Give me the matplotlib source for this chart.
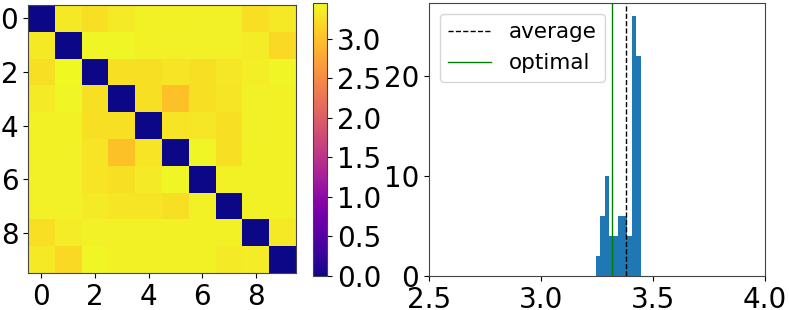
import numpy as np
import matplotlib
matplotlib.use("Agg")
import matplotlib.pyplot as plt

# ---- data ----
matrix = [
    [0.00, 3.32, 3.25, 3.33, 3.39, 3.39, 3.38, 3.38, 3.24, 3.32],
    [3.32, 0.00, 3.42, 3.41, 3.39, 3.38, 3.38, 3.38, 3.35, 3.20],
    [3.25, 3.44, 0.00, 3.25, 3.25, 3.28, 3.26, 3.31, 3.36, 3.41],
    [3.33, 3.41, 3.25, 0.00, 3.25, 3.00, 3.26, 3.30, 3.38, 3.39],
    [3.39, 3.39, 3.25, 3.25, 0.00, 3.28, 3.31, 3.26, 3.38, 3.39],
    [3.39, 3.38, 3.28, 3.00, 3.28, 0.00, 3.41, 3.25, 3.39, 3.39],
    [3.38, 3.38, 3.28, 3.26, 3.33, 3.41, 0.00, 3.39, 3.39, 3.39],
    [3.38, 3.38, 3.33, 3.30, 3.29, 3.25, 3.39, 0.00, 3.39, 3.39],
    [3.24, 3.35, 3.38, 3.38, 3.38, 3.39, 3.39, 3.39, 0.00, 3.32],
    [3.32, 3.20, 3.41, 3.39, 3.39, 3.39, 3.39, 3.33, 3.35, 0.00],
]
vmax = 3.45

hist_edges = [3.2435, 3.2636, 3.2837, 3.3038, 3.3240, 3.3441,
              3.3642, 3.3843, 3.4044, 3.4245, 3.4446]
hist_counts = [2, 6, 10, 4, 4, 6, 6, 4, 26, 22]
average = 3.379
optimal = 3.316

heat_ticks = [0, 2, 4, 6, 8]
cbar_ticks = [0.0, 0.5, 1.0, 1.5, 2.0, 2.5, 3.0]
hist_xticks = [2.5, 3.0, 3.5, 4.0]
hist_yticks = [0, 10, 20]

# ---- figure ----
W, H = 789, 310
fig = plt.figure(figsize=(W / 100, H / 100), dpi=100)
plt.rcParams['font.size'] = 20

def box(x0, y0, x1, y1):
    return [x0 / W, 1 - y1 / H, (x1 - x0) / W, (y1 - y0) / H]

spine_col = '#444444'

ax1 = fig.add_axes(box(28, 5, 296, 273))
im = ax1.imshow(np.array(matrix), cmap='plasma', vmin=0, vmax=vmax)
ax1.set_xticks(heat_ticks)
ax1.set_yticks(heat_ticks)
ax1.tick_params(labelsize=20)

cax = fig.add_axes(box(313, 3, 327, 276))
cb = fig.colorbar(im, cax=cax)
cb.set_ticks(cbar_ticks)
cb.ax.tick_params(labelsize=20)

ax2 = fig.add_axes(box(429, 3, 765, 276))
centers = [(a + b) / 2 for a, b in zip(hist_edges[:-1], hist_edges[1:])]
ax2.hist(centers, bins=hist_edges, weights=hist_counts, color='#1f77b4')
ax2.axvline(average, color='k', linestyle='--', linewidth=1, label='average')
ax2.axvline(optimal, color='g', linewidth=1, label='optimal')
ax2.set_xlim(2.5, 4.0)
ax2.set_xticks(hist_xticks)
ax2.set_yticks(hist_yticks)
ax2.tick_params(labelsize=20)
ax2.legend(loc='upper left', fontsize=15.5)

for a in (ax1, ax2, cax):
    for s in a.spines.values():
        s.set_edgecolor(spine_col)
cb.outline.set_edgecolor(spine_col)

fig.savefig('out.png', dpi=100)
